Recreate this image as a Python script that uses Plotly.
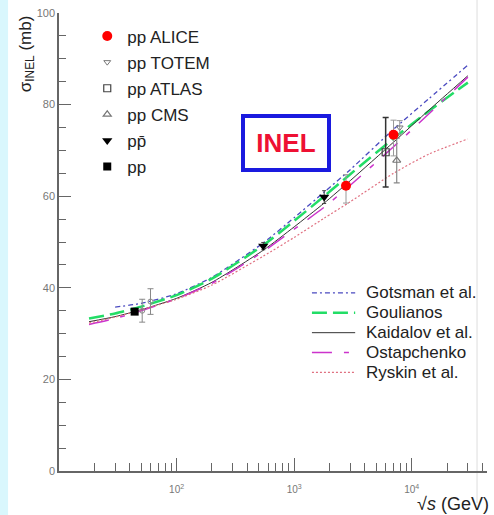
import plotly.graph_objects as go

# ---------------- data ----------------
alice_x = [2760, 7000]
alice_y = [62.3, 73.4]
alice_ep = [2.4, 3.2]
alice_em = [3.8, 4.6]

totem_x = [7900]
totem_y = [75.0]
totem_e = [1.5]

atlas_x = [6000]
atlas_y = [69.6]
atlas_e = [7.6]

cms_x = [7450]
cms_y = [67.8]
cms_e = [4.9]

ppbar_x = [546, 1800]
ppbar_y = [49.1, 59.8]
ppbar_e = [0.8, 1.4]

pp_x = [44]
pp_y = [34.8]

isr_x = [51, 60]
isr_y = [35.0, 37.0]
isr_e = [2.5, 2.8]

gots_x = [30, 50, 100, 200, 546, 1000, 1800, 3000, 7000, 14000, 30000]
gots_y = [35.8, 36.6, 38.7, 42.3, 49.8, 55.3, 60.9, 65.8, 74.6, 81.3, 88.6]

curve_x = [18, 30, 50, 100, 200, 546, 1000, 1800, 3000, 7000, 14000, 30000]
goul_y = [33.3, 34.4, 35.9, 38.4, 42.0, 49.3, 54.6, 60.0, 64.8, 72.6, 78.6, 84.8]
kaid_y = [32.6, 33.7, 35.2, 37.7, 41.2, 48.2, 53.3, 58.5, 63.4, 71.8, 78.8, 86.3]
ostp_y = [32.0, 33.3, 35.0, 37.6, 41.0, 47.9, 52.8, 57.6, 62.4, 70.8, 78.0, 86.0]
rysk_y = [32.3, 33.6, 35.2, 37.5, 40.6, 46.9, 51.0, 55.2, 58.8, 65.0, 69.2, 72.5]

model_names = ["Gotsman et al.", "Goulianos", "Kaidalov et al.", "Ostapchenko", "Ryskin et al."]
model_colors = ["#4a4ac0", "#22dd66", "#333333", "#cc33cc", "#e07080"]
model_dash = ["5px,3px,2px,3px", "15px,6px", "solid", "20px,12px,5px,12px", "2px,2px"]
model_width = [1.3, 2.5, 1.0, 1.5, 1.2]

xtick_vals = [100, 1000, 10000]
xtick_text = ["10<sup>2</sup>", "10<sup>3</sup>", "10<sup>4</sup>"]
ytick_vals = [0, 20, 40, 60, 80, 100]

FONT = "Liberation Sans, Arial, sans-serif"

fig = go.Figure()

# model curves
model_data = [(gots_x, gots_y), (curve_x, goul_y), (curve_x, kaid_y), (curve_x, ostp_y), (curve_x, rysk_y)]
for (mx, my), nm, c, d, w in zip(model_data, model_names, model_colors, model_dash, model_width):
    fig.add_trace(go.Scatter(x=mx, y=my, mode="lines", name=nm, showlegend=False,
                             line=dict(color=c, dash=d, width=w, shape="spline", smoothing=0.6)))

# data points
fig.add_trace(go.Scatter(x=isr_x, y=isr_y, mode="markers", showlegend=False, name="ISR",
                         marker=dict(symbol="circle-open", size=5, color="#888888", line=dict(width=1)),
                         error_y=dict(type="data", array=isr_e, color="#888888", thickness=1, width=3)))
fig.add_trace(go.Scatter(x=atlas_x, y=atlas_y, mode="markers", name="pp ATLAS", legendgroup="c", legendrank=3,
                         marker=dict(symbol="square-open", size=7, color="#444444", line=dict(width=1.2)),
                         error_y=dict(type="data", array=atlas_e, color="#333333", thickness=1.5, width=3)))
fig.add_trace(go.Scatter(x=cms_x, y=cms_y, mode="markers", name="pp CMS", legendgroup="d", legendrank=4,
                         marker=dict(symbol="triangle-up-open", size=7, color="#777777", line=dict(width=1.2)),
                         error_y=dict(type="data", array=cms_e, color="#888888", thickness=1.2, width=3)))
fig.add_trace(go.Scatter(x=totem_x, y=totem_y, mode="markers", name="pp TOTEM", legendgroup="b", legendrank=2,
                         marker=dict(symbol="triangle-down-open", size=6, color="#777777", line=dict(width=1)),
                         error_y=dict(type="data", array=totem_e, color="#999999", thickness=1, width=3)))
fig.add_trace(go.Scatter(x=alice_x, y=alice_y, mode="markers", name="pp ALICE", legendgroup="a", legendrank=1,
                         marker=dict(symbol="circle", size=10, color="#ff0000"),
                         error_y=dict(type="data", symmetric=False, array=alice_ep, arrayminus=alice_em,
                                      color="#999999", thickness=1, width=3)))
fig.add_trace(go.Scatter(x=ppbar_x, y=ppbar_y, mode="markers", name="pp\u0304", legendgroup="e", legendrank=5,
                         marker=dict(symbol="triangle-down", size=9, color="#000000"),
                         error_y=dict(type="data", array=ppbar_e, color="#444444", thickness=1, width=2)))
fig.add_trace(go.Scatter(x=pp_x, y=pp_y, mode="markers", name="pp", legendgroup="f", legendrank=6,
                         marker=dict(symbol="square", size=8, color="#000000")))

# legend of models drawn manually
shapes = []
annotations = []
row_y = [0.389, 0.3456, 0.302, 0.2588, 0.2154]
for ry, nm, c, d, w in zip(row_y, model_names, model_colors, model_dash, model_width):
    shapes.append(dict(type="line", xref="paper", yref="paper", x0=0.591, x1=0.692, y0=ry, y1=ry,
                       line=dict(color=c, dash=d, width=w)))
    annotations.append(dict(xref="paper", yref="paper", x=0.713, y=ry, text=nm, showarrow=False,
                            xanchor="left", yanchor="middle", font=dict(family=FONT, size=17, color="#222222")))

# background strips
shapes.append(dict(type="rect", xref="paper", yref="paper", x0=-0.14, x1=-0.119, y0=-0.1, y1=1.03,
                   fillcolor="#d9f7fd", line=dict(width=0), layer="below"))
shapes.append(dict(type="line", xref="paper", yref="paper", x0=0.9767, x1=0.9767, y0=-0.07, y1=1.03,
                   line=dict(color="#dddddd", width=1), layer="below"))

# INEL box
annotations.append(dict(xref="paper", yref="paper", x=0.530, y=0.717, text="<b>INEL</b>", showarrow=False,
                        xanchor="center", yanchor="middle",
                        font=dict(family=FONT, size=26, color="#ee1133"), bgcolor="white",
                        bordercolor="#1a1adf", borderwidth=4, borderpad=0, width=82, height=50))

# axis titles
annotations.append(dict(xref="paper", yref="paper", x=-0.075, y=0.912, text="σ<sub>INEL</sub> (mb)",
                        showarrow=False, textangle=-90, xanchor="center", yanchor="middle",
                        font=dict(family=FONT, size=17, color="#222222")))
annotations.append(dict(xref="paper", yref="paper", x=1.0093, y=-0.0716, text="√<i>s</i> (GeV)",
                        showarrow=False, xanchor="right", yanchor="middle",
                        font=dict(family=FONT, size=18, color="#222222")))

minor_x = [v * m for m in (10, 100, 1000) for v in range(2, 10)] + [20000, 30000, 40000]
minor_x = [v for v in minor_x if v not in (100, 1000, 10000)]

fig.update_layout(
    width=494, height=515, autosize=False,
    margin=dict(l=59, r=7, t=10, b=44),
    paper_bgcolor="white", plot_bgcolor="white",
    font=dict(family=FONT),
    shapes=shapes, annotations=annotations,
    legend=dict(x=0.066, y=0.988, xanchor="left", yanchor="top", bgcolor="rgba(0,0,0,0)",
                font=dict(family=FONT, size=17, color="#222222"), tracegroupgap=1,
                traceorder="grouped"),
    xaxis=dict(type="log", range=[1.0, 4.64], showgrid=False, zeroline=False,
               showline=True, linecolor="#666666", linewidth=1.5,
               tickmode="array", tickvals=xtick_vals, ticktext=xtick_text,
               ticks="inside", ticklen=13, tickwidth=1, tickcolor="#666666",
               tickfont=dict(family=FONT, size=10, color="#777777"), ticklabelstandoff=8,
               minor=dict(tickmode="array", tickvals=minor_x, ticks="inside", ticklen=8,
                          tickcolor="#666666", tickwidth=1, showgrid=False)),
    yaxis=dict(range=[0, 100], showgrid=False, zeroline=False,
               showline=True, linecolor="#666666", linewidth=1.5,
               tickmode="array", tickvals=ytick_vals,
               ticks="inside", ticklen=12, tickwidth=1, tickcolor="#666666",
               tickfont=dict(family=FONT, size=11, color="#777777"),
               minor=dict(dtick=5, ticks="inside", ticklen=7, tickcolor="#666666", tickwidth=1,
                          showgrid=False)),
)

fig.write_html("out.html")
